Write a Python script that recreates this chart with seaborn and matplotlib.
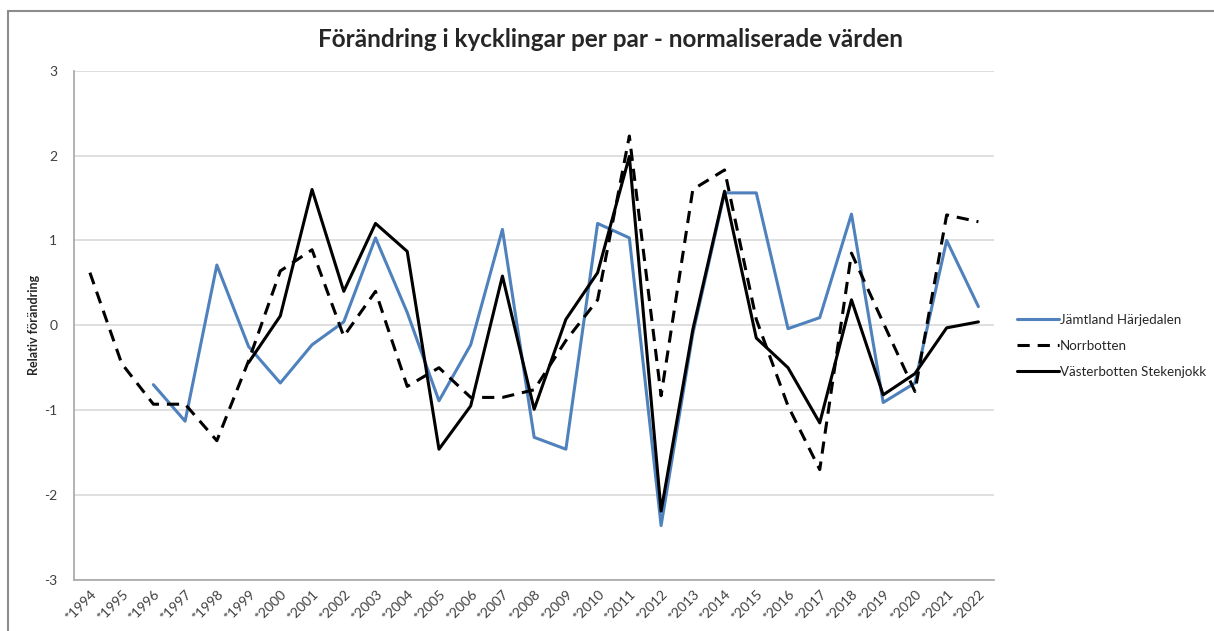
import numpy as np
import pandas as pd
import matplotlib
matplotlib.use("Agg")
import matplotlib.pyplot as plt
from matplotlib.lines import Line2D
import seaborn as sns

# Values (normalised change per year)
years = ['*' + str(y) for y in range(1994, 2023)]

jamtland = [np.nan, np.nan, -0.70, -1.13, 0.71, -0.25, -0.68, -0.23, 0.04, 1.03,
            0.15, -0.89, -0.23, 1.13, -1.32, -1.46, 1.20, 1.03, -2.36, -0.10,
            1.56, 1.56, -0.04, 0.09, 1.31, -0.91, -0.68, 1.00, 0.22]

norrbotten = [0.62, -0.45, -0.93, -0.93, -1.36, -0.42, 0.64, 0.89, -0.13, 0.40,
              -0.72, -0.50, -0.85, -0.85, -0.76, -0.18, 0.30, 2.23, -0.83, 1.60,
              1.83, 0.07, -0.95, -1.70, 0.85, 0.03, -0.78, 1.30, 1.22]

vasterbotten = [np.nan, np.nan, np.nan, np.nan, np.nan, -0.44, 0.11, 1.60, 0.40, 1.20,
                0.87, -1.46, -0.95, 0.58, -0.99, 0.07, 0.62, 1.99, -2.19, -0.05,
                1.58, -0.15, -0.50, -1.15, 0.30, -0.82, -0.57, -0.03, 0.04]

series_names = ['Jämtland Härjedalen', 'Norrbotten', 'Västerbotten Stekenjokk']

df = pd.DataFrame({
    'pos': list(range(len(years))) * 3,
    'value': jamtland + norrbotten + vasterbotten,
    'serie': np.repeat(series_names, len(years)),
})

sns.set_theme(style="white")
plt.rcParams['font.family'] = ['Lato', 'DejaVu Sans']
plt.rcParams['axes.unicode_minus'] = False

fig = plt.figure(figsize=(12.14, 6.31), dpi=100)
ax = fig.add_axes([0.061, 0.081, 0.758, 0.807])

styles = {
    'Jämtland Härjedalen': dict(color='#4f81bd', ls='-'),
    'Norrbotten': dict(color='black', ls='--'),
    'Västerbotten Stekenjokk': dict(color='black', ls='-'),
}
dash = (4, 2.6)

for name in series_names:
    sub = df[df['serie'] == name].dropna()
    sns.lineplot(data=sub, x='pos', y='value', ax=ax, color=styles[name]['color'],
                 linewidth=2.2, legend=False)
    if styles[name]['ls'] == '--':
        ax.lines[-1].set_dashes(dash)

ax.set_xlim(-0.5, len(years) - 0.5)
ax.set_ylim(-3, 3)
ax.set_yticks([-3, -2, -1, 0, 1, 2, 3])
ax.set_xticks(range(len(years)))
ax.set_xticklabels(years, rotation=45, ha='right', rotation_mode='anchor')
ax.tick_params(axis='both', length=0, labelsize=10, labelcolor='#404040')
ax.tick_params(axis='x', pad=6)
ax.tick_params(axis='y', pad=12)
ax.grid(axis='y', color='#d9d9d9', linewidth=1.2)
ax.set_axisbelow(True)
for side in ['top', 'right']:
    ax.spines[side].set_visible(False)
for side in ['left', 'bottom']:
    ax.spines[side].set_color('#a6a6a6')
    ax.spines[side].set_linewidth(1.2)

ax.set_xlabel('')
ax.set_ylabel('Relativ förändring', fontsize=9, fontweight='bold')
ax.yaxis.set_label_coords(-0.037, 0.5)

fig.text(0.503, 0.937, 'Förändring i kycklingar per par - normaliserade värden',
         ha='center', va='center', fontsize=17.5, fontweight='bold')

handles = []
for n in series_names:
    h = Line2D([], [], color=styles[n]['color'], lw=2.2)
    if styles[n]['ls'] == '--':
        h.set_linestyle('--')
        h.set_dashes(dash)
    handles.append(h)
fig.legend(handles, series_names, loc='center left', bbox_to_anchor=(0.828, 0.452),
           frameon=False, fontsize=9.6, handlelength=3.1, handletextpad=0.1,
           labelspacing=1.05)

# chart area border (top and left) like the original Excel frame
fig.add_artist(Line2D([0.0066, 1.0], [0.983, 0.983], color='#8c8c8c', lw=1.5,
                      transform=fig.transFigure))
fig.add_artist(Line2D([0.0066, 0.0066], [0.983, 0.0], color='#8c8c8c', lw=1.5,
                      transform=fig.transFigure))

fig.savefig('out.png', dpi=100)
